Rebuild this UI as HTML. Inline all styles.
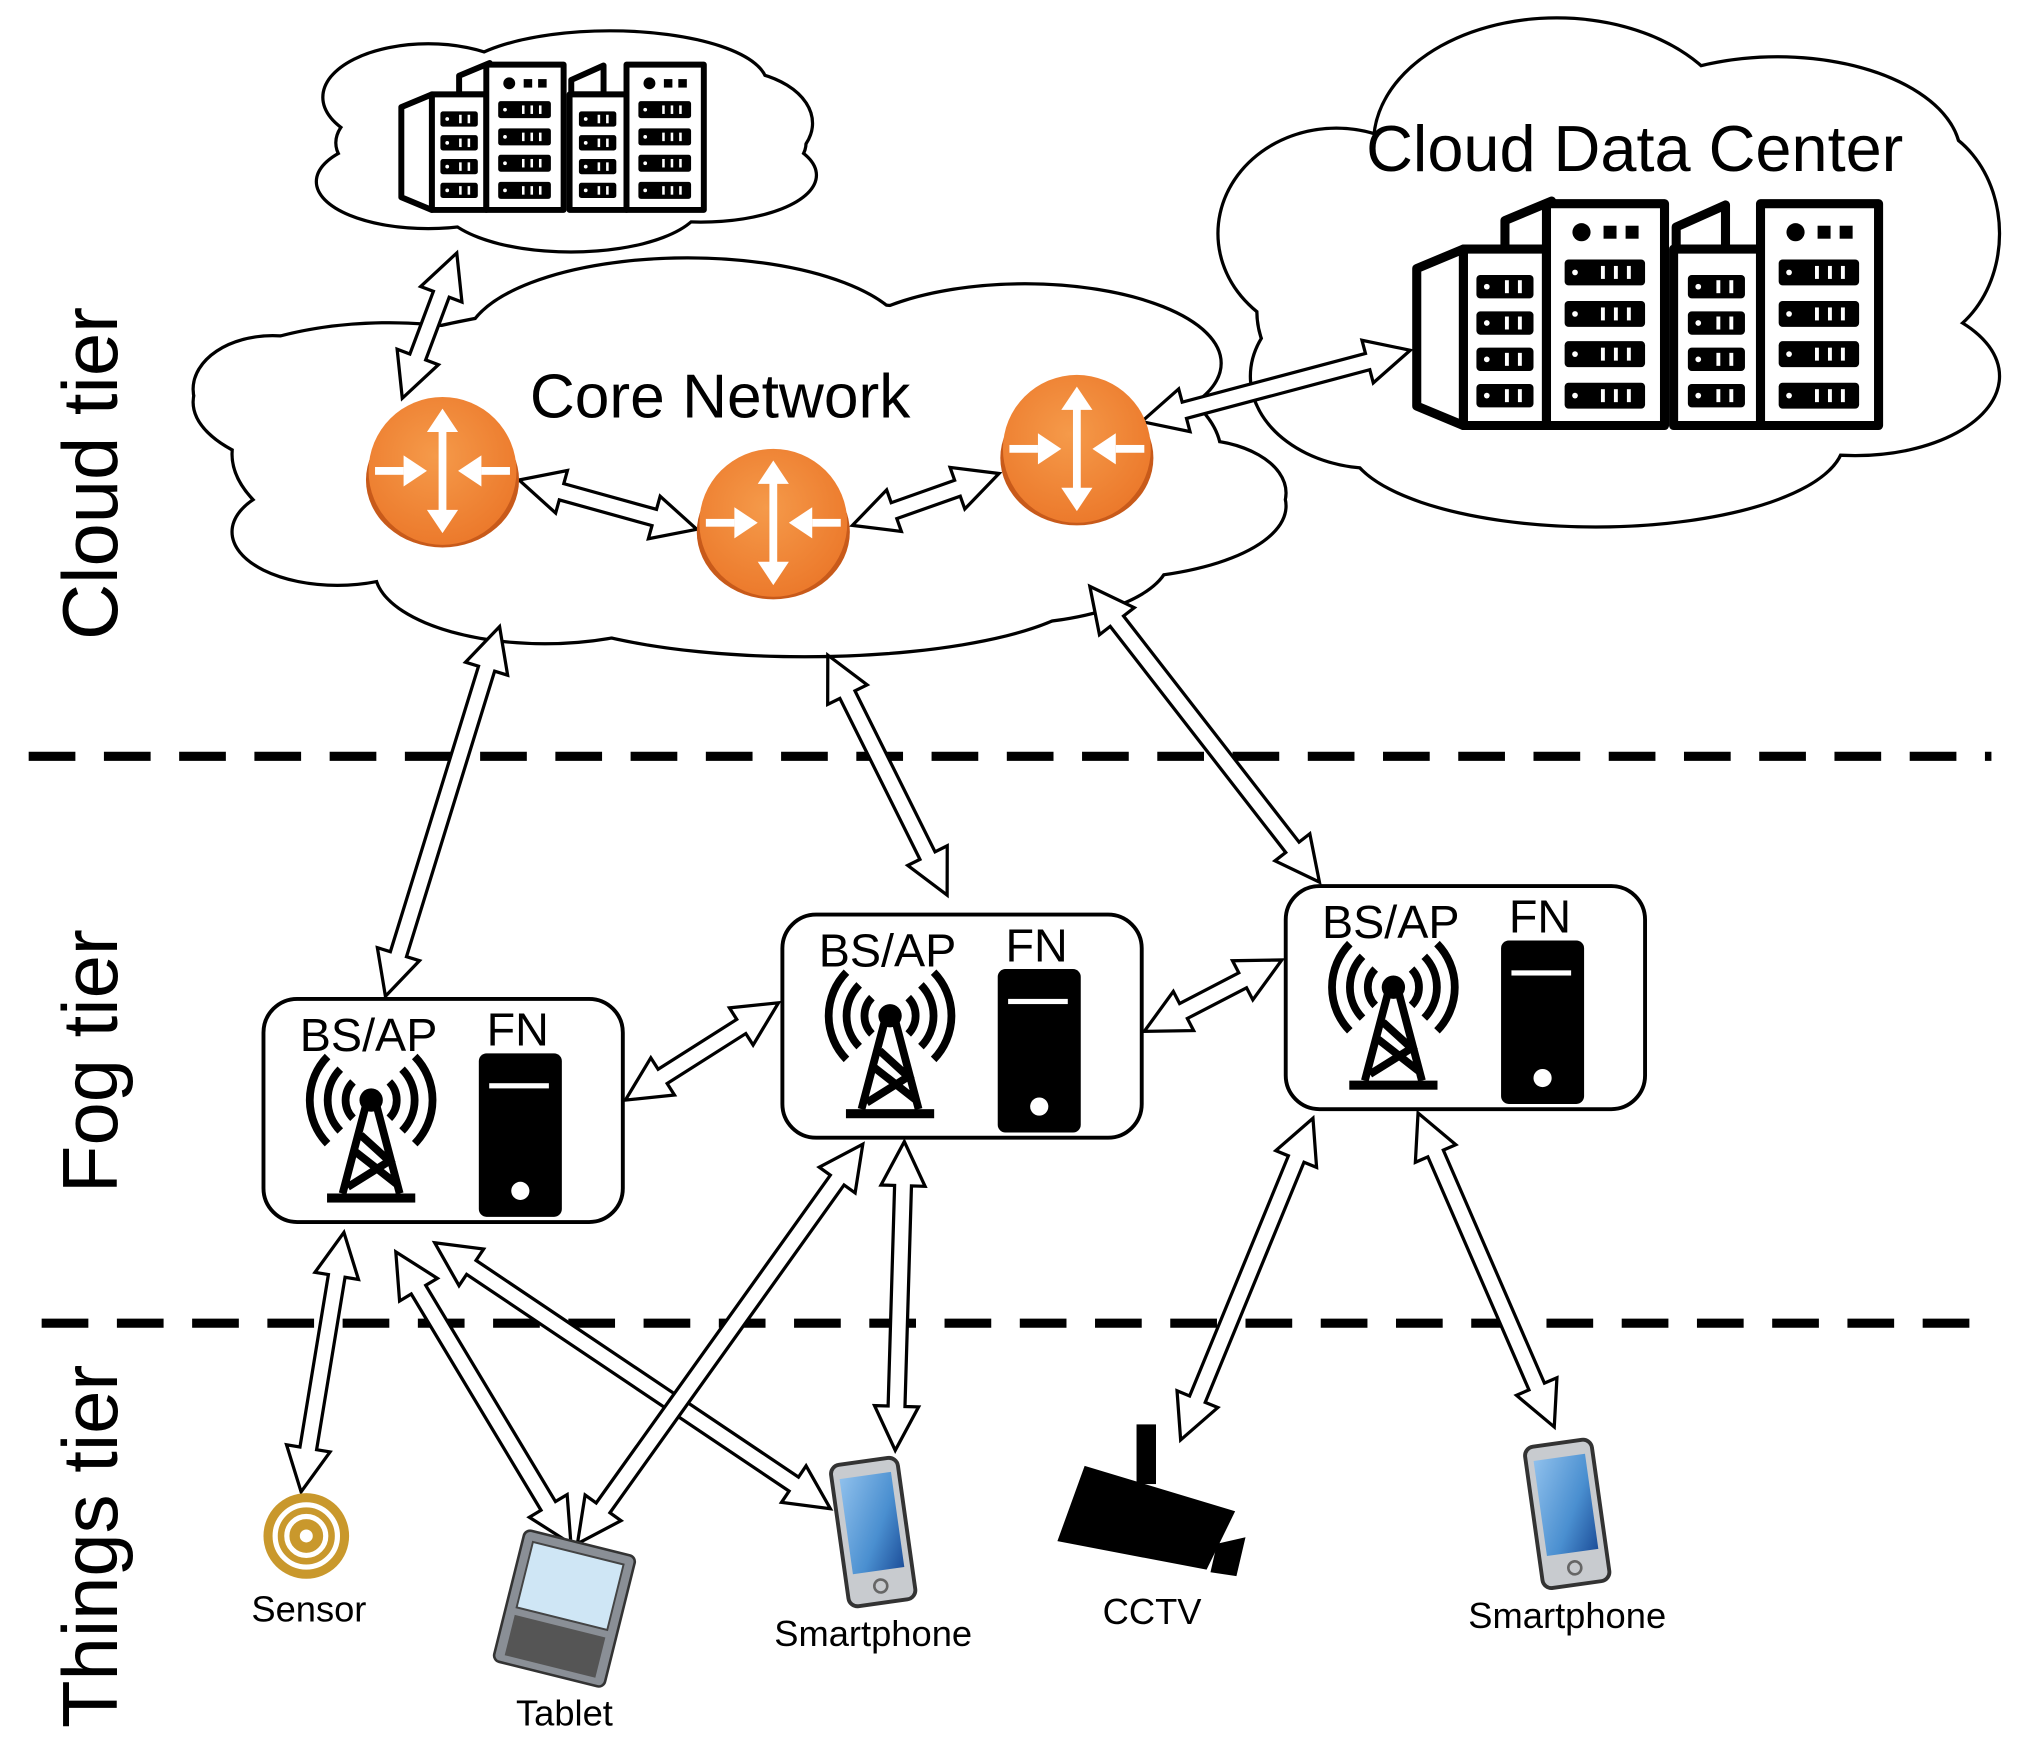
<!DOCTYPE html>
<html><head><meta charset="utf-8"><style>
html,body{margin:0;padding:0;background:#fff}
svg{display:block}
text{font-family:"Liberation Sans",Arial,sans-serif;fill:#000}
</style></head><body>
<svg id="s" xmlns="http://www.w3.org/2000/svg" width="2024" height="1750" viewBox="0 0 1560 1349">
<defs>
<radialGradient id="og" cx="0.45" cy="0.4" r="0.6"><stop offset="0" stop-color="#f59a4a"/><stop offset="1" stop-color="#ec7a2c"/></radialGradient>
<linearGradient id="bl" x1="0" y1="0" x2="1" y2="1"><stop offset="0" stop-color="#8fc0ec"/><stop offset="0.6" stop-color="#4a8fd0"/><stop offset="1" stop-color="#1d4f9a"/></linearGradient>
</defs>
<g id="clouds"></g>
<g id="dc1"></g>
<g id="dc2"></g>
<!-- dashed lines -->
<line x1="22" y1="583" x2="1535" y2="583" stroke="#000" stroke-width="7" stroke-dasharray="36,22"/>
<line x1="32" y1="1020" x2="1535" y2="1020" stroke="#000" stroke-width="7" stroke-dasharray="36,22"/>
<!-- tier labels -->
<text transform="translate(90,365) rotate(-90)" font-size="60" text-anchor="middle">Cloud tier</text>
<text transform="translate(90,818) rotate(-90)" font-size="60" text-anchor="middle">Fog tier</text>
<text transform="translate(90,1192) rotate(-90)" font-size="60" text-anchor="middle">Things tier</text>
<text x="555" y="322" font-size="48" text-anchor="middle">Core Network</text>
<text x="1260" y="132" font-size="50" text-anchor="middle">Cloud Data Center</text>
<!-- fog boxes -->
<rect x="203" y="770" width="277" height="172" rx="26" fill="#fff" stroke="#000" stroke-width="3"/>
<rect x="603" y="705" width="277" height="172" rx="26" fill="#fff" stroke="#000" stroke-width="3"/>
<rect x="991" y="683" width="277" height="172" rx="26" fill="#fff" stroke="#000" stroke-width="3"/>
<g id="fog"></g>
<g id="arrows"></g>
<g id="routers"></g>
<g id="things"></g>
<text x="238" y="1250" font-size="28" text-anchor="middle">Sensor</text>
<text x="435" y="1330" font-size="28" text-anchor="middle">Tablet</text>
<text x="673" y="1269" font-size="28" text-anchor="middle">Smartphone</text>
<text x="888" y="1252" font-size="28" text-anchor="middle">CCTV</text>
<text x="1208" y="1255" font-size="28" text-anchor="middle">Smartphone</text>
</svg>
<script>
var NS="http://www.w3.org/2000/svg";
function add(p,tag,a){var e=document.createElementNS(NS,tag);for(var k in a)e.setAttribute(k,a[k]);document.getElementById(p).appendChild(e);return e;}
// clouds: ellipses stroked then filled
function cloud(list){
 list.forEach(function(c){add("clouds","ellipse",{cx:c[0],cy:c[1],rx:c[2],ry:c[3],fill:"none",stroke:"#000","stroke-width":5});});
 list.forEach(function(c){add("clouds","ellipse",{cx:c[0],cy:c[1],rx:c[2],ry:c[3],fill:"#fff"});});
}
cloud([[440,110,180,55],[330,75,80,40],[470,65,120,40],[540,135,88,35],[330,140,85,35],[440,155,100,38],[560,95,65,40]]);
cloud([[560,350,380,120],[300,310,150,60],[530,265,170,65],[790,280,150,60],[260,410,80,40],[850,390,140,55],[420,440,130,55],[620,450,220,55],[770,430,130,50],[920,380,70,40],[210,300,60,40]]);
cloud([[1240,240,270,130],[1200,110,140,95],[1370,120,140,75],[1030,180,90,80],[1060,290,95,70],[1230,340,190,65],[1430,290,110,60],[1470,180,70,85]]);
// data center
function dc(g,tr){
 var gg=add(g,"g",{transform:tr});var id=g+"i";gg.id=id;
 var S={stroke:"#000","stroke-width":7,"stroke-linejoin":"round",fill:"#fff"};
 function P(pts){var o={points:pts};for(var k in S)o[k]=S[k];add(id,"polygon",o);}
 function R(x,y,w,h){var o={x:x,y:y,width:w,height:h};for(var k in S)o[k]=S[k];add(id,"rect",o);}
 P("1092,207 1128,192 1128,328 1092,313");
 P("1160,192 1160,170 1196,155 1196,192");
 P("1292,192 1292,175 1330,158 1330,192");
 R(1128,192,64,136);R(1192,157,91,171);R(1290,192,67,136);R(1357,157,91,171);
 function slotsA(x){[212,240,268,296].forEach(function(y){add(id,"rect",{x:x,y:y,width:44,height:18,rx:3,fill:"#000"});add(id,"circle",{cx:x+8,cy:y+9,r:2.2,fill:"#fff"});add(id,"rect",{x:x+22,y:y+4,width:3,height:10,fill:"#fff"});add(id,"rect",{x:x+32,y:y+4,width:3,height:10,fill:"#fff"});});}
 function slotsB(x){add(id,"circle",{cx:x+13,cy:179,r:7,fill:"#000"});add(id,"rect",{x:x+30,y:174,width:10,height:10,fill:"#000"});add(id,"rect",{x:x+47,y:174,width:10,height:10,fill:"#000"});
  [200,232,263,295].forEach(function(y){add(id,"rect",{x:x,y:y,width:62,height:20,rx:3,fill:"#000"});add(id,"circle",{cx:x+8,cy:y+10,r:2.2,fill:"#fff"});[28,38,48].forEach(function(d){add(id,"rect",{x:x+d,y:y+5,width:3,height:10,fill:"#fff"});});});}
 slotsA(1138);slotsB(1206);slotsA(1301);slotsB(1371);
}
dc("dc2","");
dc("dc1","translate(-406,-53) scale(0.655)");
// arrows
function arrow(x1,y1,x2,y2){
 var dx=x2-x1,dy=y2-y1,L=Math.hypot(dx,dy),a=Math.atan2(dy,dx)*180/Math.PI;
 var hl=34,hw=17,sw=6.5;
 var pts=[[0,0],[hl,-hw],[hl,-sw],[L-hl,-sw],[L-hl,-hw],[L,0],[L-hl,hw],[L-hl,sw],[hl,sw],[hl,hw]].map(function(p){return p.join(",");}).join(" ");
 add("arrows","polygon",{points:pts,fill:"#fff",stroke:"#000","stroke-width":2.5,"stroke-linejoin":"miter",transform:"translate("+x1+","+y1+") rotate("+a+")"});
}
[[352,195,310,307],[400,370,537,408],[657,405,770,365],[880,325,1087,270],
 [385,483,297,768],[638,505,730,690],[840,452,1017,680],[482,848,600,773],[882,795,988,740],
 [265,950,232,1150],[305,965,440,1190],[335,958,640,1163],[665,882,445,1190],[697,880,690,1118],
 [1012,862,910,1110],[1093,858,1198,1100]].forEach(function(a){arrow.apply(null,a);});
// routers
function router(cx,cy){
 var id="routers";
 add(id,"ellipse",{cx:cx,cy:cy+7,rx:59,ry:52,fill:"#c85a1a"});
 add(id,"circle",{cx:cx,cy:cy,r:57,fill:"url(#og)"});
 var w="#fff";
 add(id,"rect",{x:cx-3,y:cy-32,width:6,height:64,fill:w});
 add(id,"polygon",{points:(cx-12)+","+(cy-30)+" "+cx+","+(cy-48)+" "+(cx+12)+","+(cy-30),fill:w});
 add(id,"polygon",{points:(cx-12)+","+(cy+30)+" "+cx+","+(cy+48)+" "+(cx+12)+","+(cy+30),fill:w});
 add(id,"rect",{x:cx-52,y:cy-3,width:22,height:6,fill:w});
 add(id,"polygon",{points:(cx-30)+","+(cy-12)+" "+(cx-12)+","+cy+" "+(cx-30)+","+(cy+12),fill:w});
 add(id,"rect",{x:cx+30,y:cy-3,width:22,height:6,fill:w});
 add(id,"polygon",{points:(cx+30)+","+(cy-12)+" "+(cx+12)+","+cy+" "+(cx+30)+","+(cy+12),fill:w});
}
router(341,363);router(596,403);router(830,346);
// fog contents
function fog(x,y){
 var id="fog";
 var t=add(id,"text",{x:x+28,y:y+40,"font-size":36});t.textContent="BS/AP";
 var f=add(id,"text",{x:x+172,y:y+36,"font-size":36});f.textContent="FN";
 var cx=x+83,cy=y+78;
 add(id,"circle",{cx:cx,cy:cy,r:9,fill:"#000"});
 [[20,3],[34,3.5],[48,4]].forEach(function(r){
  add(id,"path",{d:"M"+(cx-r[0]*0.7)+","+(cy-r[0]*0.7)+" A"+r[0]+","+r[0]+" 0 0 0 "+(cx-r[0]*0.7)+","+(cy+r[0]*0.7),fill:"none",stroke:"#000","stroke-width":6});
  add(id,"path",{d:"M"+(cx+r[0]*0.7)+","+(cy-r[0]*0.7)+" A"+r[0]+","+r[0]+" 0 0 1 "+(cx+r[0]*0.7)+","+(cy+r[0]*0.7),fill:"none",stroke:"#000","stroke-width":6});
 });
 var L="stroke:#000;stroke-width:6;fill:none";
 add(id,"path",{d:"M"+(cx-3)+","+cy+" L"+(cx-22)+","+(y+150)+" M"+(cx+3)+","+cy+" L"+(cx+22)+","+(y+150)+" M"+(cx-8)+","+(y+105)+" L"+(cx+14)+","+(y+125)+" L"+(cx-18)+","+(y+145)+" M"+(cx-12)+","+(y+118)+" L"+(cx+20)+","+(y+143),style:L});
 add(id,"rect",{x:cx-34,y:y+150,width:68,height:7,fill:"#000"});
 add(id,"rect",{x:x+166,y:y+42,width:64,height:126,rx:6,fill:"#000"});
 add(id,"rect",{x:x+174,y:y+65,width:46,height:4,fill:"#fff"});
 add(id,"circle",{cx:x+198,cy:y+148,r:7,fill:"#fff"});
}
fog(203,770);fog(603,705);fog(991,683);
// things
var T="things";
add(T,"circle",{cx:236,cy:1184,r:33,fill:"#c9982c"});
[24,15].forEach(function(r){add(T,"circle",{cx:236,cy:1184,r:r,fill:"none",stroke:"#fff","stroke-width":4});});
add(T,"circle",{cx:236,cy:1184,r:5,fill:"#fff"});
// tablet
var tg=add(T,"g",{transform:"translate(435,1240) rotate(14)"});tg.id="tab";
add("tab","rect",{x:-44,y:-52,width:88,height:104,rx:5,fill:"#8a8f96",stroke:"#333","stroke-width":2});
add("tab","rect",{x:-36,y:-44,width:72,height:52,fill:"#cfe6f5",stroke:"#444","stroke-width":1.5});
add("tab","rect",{x:-36,y:14,width:72,height:32,fill:"#555"});
// phones
function phone(x,y,id){var g=add(T,"g",{transform:"translate("+x+","+y+") rotate(-8)"});g.id=id;
 add(id,"rect",{x:-26,y:-55,width:52,height:110,rx:7,fill:"#c8cbcf",stroke:"#333","stroke-width":3});
 add(id,"rect",{x:-20,y:-44,width:40,height:74,fill:"url(#bl)"});
 add(id,"circle",{cx:0,cy:42,r:5,fill:"none",stroke:"#666","stroke-width":2});}
phone(673,1181,"ph1");phone(1208,1167,"ph2");
// cctv
add(T,"rect",{x:876,y:1098,width:15,height:46,fill:"#000"});
add(T,"polygon",{points:"836,1130 952,1165 930,1210 815,1188",fill:"#000"});
add(T,"polygon",{points:"938,1190 960,1185 953,1215 933,1212",fill:"#000"});
</script>
</body></html>
